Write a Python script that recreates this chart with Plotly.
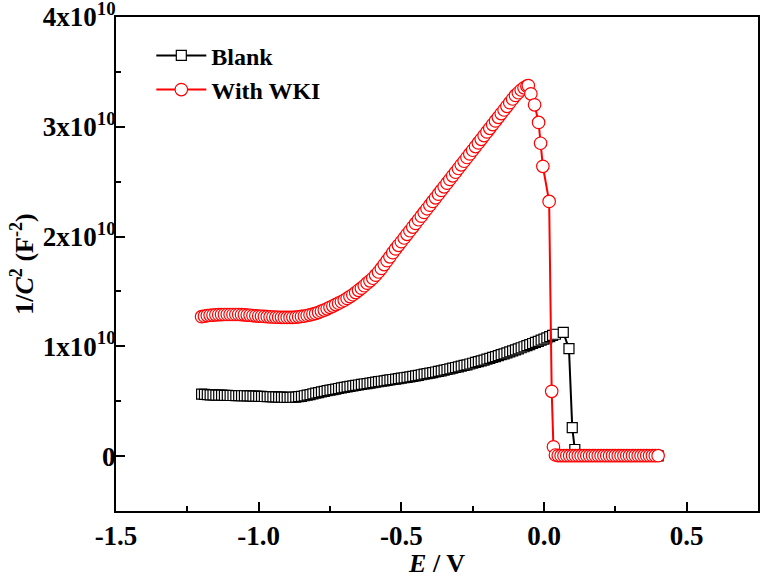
import plotly.graph_objects as go

# ---------------- data (potential E in V, 1/C^2 in units of 1e10 F^-2) ----------------
blank_E_scan = [
    -1.20, -1.19, -1.18, -1.17, -1.16, -1.15, -1.14, -1.13, -1.12, -1.11,
    -1.10, -1.09, -1.08, -1.07, -1.06, -1.05, -1.04, -1.03, -1.02, -1.01,
    -1.00, -0.99, -0.98, -0.97, -0.96, -0.95, -0.94, -0.93, -0.92, -0.91,
    -0.90, -0.89, -0.88, -0.87, -0.86, -0.85, -0.84, -0.83, -0.82, -0.81,
    -0.80, -0.79, -0.78, -0.77, -0.76, -0.75, -0.74, -0.73, -0.72, -0.71,
    -0.70, -0.69, -0.68, -0.67, -0.66, -0.65, -0.64, -0.63, -0.62, -0.61,
    -0.60, -0.59, -0.58, -0.57, -0.56, -0.55, -0.54, -0.53, -0.52, -0.51,
    -0.50, -0.49, -0.48, -0.47, -0.46, -0.45, -0.44, -0.43, -0.42, -0.41,
    -0.40, -0.39, -0.38, -0.37, -0.36, -0.35, -0.34, -0.33, -0.32, -0.31,
    -0.30, -0.29, -0.28, -0.27, -0.26, -0.25, -0.24, -0.23, -0.22, -0.21,
    -0.20, -0.19, -0.18, -0.17, -0.16, -0.15, -0.14, -0.13, -0.12, -0.11,
    -0.10, -0.09, -0.08, -0.07, -0.06, -0.05, -0.04, -0.03, -0.02, -0.01,
    0.00, 0.01, 0.02, 0.03, 0.04,
]
blank_C2_scan = [
    0.565, 0.562, 0.560, 0.558, 0.557, 0.556, 0.555, 0.555, 0.554, 0.553,
    0.552, 0.552, 0.551, 0.551, 0.550, 0.550, 0.549, 0.548, 0.547, 0.546,
    0.545, 0.544, 0.543, 0.542, 0.541, 0.540, 0.539, 0.538, 0.537, 0.536,
    0.535, 0.535, 0.536, 0.538, 0.541, 0.545, 0.550, 0.555, 0.561, 0.567,
    0.573, 0.579, 0.585, 0.590, 0.596, 0.601, 0.606, 0.611, 0.616, 0.621,
    0.626, 0.630, 0.635, 0.639, 0.644, 0.648, 0.653, 0.657, 0.661, 0.665,
    0.670, 0.674, 0.678, 0.682, 0.686, 0.690, 0.694, 0.698, 0.702, 0.706,
    0.710, 0.714, 0.718, 0.722, 0.727, 0.731, 0.736, 0.741, 0.746, 0.751,
    0.756, 0.761, 0.766, 0.772, 0.777, 0.783, 0.789, 0.795, 0.801, 0.807,
    0.813, 0.819, 0.826, 0.832, 0.839, 0.846, 0.853, 0.860, 0.868, 0.875,
    0.883, 0.891, 0.899, 0.907, 0.915, 0.924, 0.932, 0.941, 0.950, 0.959,
    0.968, 0.977, 0.987, 0.996, 1.006, 1.016, 1.026, 1.036, 1.046, 1.056,
    1.066, 1.077, 1.088, 1.099, 1.110,
]
blank_E_drop = [0.0675, 0.0875, 0.099, 0.108]
blank_C2_drop = [1.127, 0.979, 0.260, 0.060]
blank_E_flat = [
    0.12, 0.13, 0.14, 0.15, 0.16, 0.17, 0.18, 0.19, 0.20, 0.21,
    0.22, 0.23, 0.24, 0.25, 0.26, 0.27, 0.28, 0.29, 0.30, 0.31,
    0.32, 0.33, 0.34, 0.35, 0.36, 0.37, 0.38, 0.39, 0.40,
]
blank_C2_flat = [
    0.004, 0.004, 0.003, 0.003, 0.003, 0.003, 0.003, 0.003, 0.003, 0.003,
    0.003, 0.003, 0.003, 0.003, 0.003, 0.003, 0.003, 0.003, 0.003, 0.003,
    0.003, 0.003, 0.003, 0.003, 0.003, 0.003, 0.003, 0.003, 0.003,
]

wki_E_scan = [
    -1.20, -1.19, -1.18, -1.17, -1.16, -1.15, -1.14, -1.13, -1.12, -1.11,
    -1.10, -1.09, -1.08, -1.07, -1.06, -1.05, -1.04, -1.03, -1.02, -1.01,
    -1.00, -0.99, -0.98, -0.97, -0.96, -0.95, -0.94, -0.93, -0.92, -0.91,
    -0.90, -0.89, -0.88, -0.87, -0.86, -0.85, -0.84, -0.83, -0.82, -0.81,
    -0.80, -0.79, -0.78, -0.77, -0.76, -0.75, -0.74, -0.73, -0.72, -0.71,
    -0.70, -0.69, -0.68, -0.67, -0.66, -0.65, -0.64, -0.63, -0.62, -0.61,
    -0.60, -0.59, -0.58, -0.57, -0.56, -0.55, -0.54, -0.53, -0.52, -0.51,
    -0.50, -0.49, -0.48, -0.47, -0.46, -0.45, -0.44, -0.43, -0.42, -0.41,
    -0.40, -0.39, -0.38, -0.37, -0.36, -0.35, -0.34, -0.33, -0.32, -0.31,
    -0.30, -0.29, -0.28, -0.27, -0.26, -0.25, -0.24, -0.23, -0.22, -0.21,
    -0.20, -0.19, -0.18, -0.17, -0.16, -0.15, -0.14, -0.13, -0.12, -0.11,
    -0.10, -0.09, -0.08, -0.07, -0.06,
]
wki_C2_scan = [
    1.270, 1.275, 1.280, 1.283, 1.285, 1.287, 1.288, 1.289, 1.290, 1.290,
    1.290, 1.290, 1.290, 1.290, 1.288, 1.287, 1.285, 1.283, 1.280, 1.278,
    1.276, 1.274, 1.272, 1.270, 1.268, 1.267, 1.266, 1.265, 1.264, 1.263,
    1.263, 1.263, 1.264, 1.266, 1.269, 1.272, 1.276, 1.281, 1.287, 1.294,
    1.300, 1.310, 1.320, 1.330, 1.342, 1.355, 1.367, 1.380, 1.393, 1.406,
    1.420, 1.436, 1.453, 1.470, 1.490, 1.510, 1.530, 1.552, 1.575, 1.597,
    1.620, 1.648, 1.677, 1.710, 1.745, 1.780, 1.815, 1.853, 1.887, 1.920,
    1.953, 1.987, 2.020, 2.053, 2.086, 2.120, 2.153, 2.186, 2.220, 2.253,
    2.286, 2.320, 2.353, 2.386, 2.420, 2.453, 2.486, 2.520, 2.553, 2.586,
    2.620, 2.653, 2.686, 2.720, 2.753, 2.786, 2.820, 2.853, 2.886, 2.920,
    2.953, 2.986, 3.020, 3.053, 3.086, 3.120, 3.153, 3.186, 3.220, 3.253,
    3.286, 3.310, 3.335, 3.355, 3.370,
]
wki_E_drop = [-0.055, -0.046, -0.033, -0.019, -0.012, -0.004, 0.018, 0.027, 0.033, 0.040]
wki_C2_drop = [3.375, 3.300, 3.200, 3.040, 2.850, 2.640, 2.320, 0.590, 0.085, 0.010]
wki_E_flat = [
    0.05, 0.06, 0.07, 0.08, 0.09, 0.10, 0.11, 0.12, 0.13, 0.14,
    0.15, 0.16, 0.17, 0.18, 0.19, 0.20, 0.21, 0.22, 0.23, 0.24,
    0.25, 0.26, 0.27, 0.28, 0.29, 0.30, 0.31, 0.32, 0.33, 0.34,
    0.35, 0.36, 0.37, 0.38, 0.39, 0.40,
]
wki_C2_flat = [
    0.005, 0.004, 0.004, 0.004, 0.004, 0.004, 0.004, 0.004, 0.004, 0.004,
    0.004, 0.004, 0.004, 0.004, 0.004, 0.004, 0.004, 0.004, 0.004, 0.004,
    0.004, 0.004, 0.004, 0.004, 0.004, 0.004, 0.004, 0.004, 0.004, 0.004,
    0.004, 0.004, 0.004, 0.004, 0.004, 0.004,
]

x_tick_vals = [-1.5, -1.0, -0.5, 0.0, 0.5]
x_tick_text = ["-1.5", "-1.0", "-0.5", "0.0", "0.5"]
y_tick_vals = [0, 1e10, 2e10, 3e10, 4e10]
y_tick_text = ["0", "1x10<sup>10</sup>", "2x10<sup>10</sup>", "3x10<sup>10</sup>", "4x10<sup>10</sup>"]

SCALE = 1e10
blank_E = blank_E_scan + blank_E_drop + blank_E_flat
blank_C2 = [v * SCALE for v in blank_C2_scan + blank_C2_drop + blank_C2_flat]
wki_E = wki_E_scan + wki_E_drop + wki_E_flat
wki_C2 = [v * SCALE for v in wki_C2_scan + wki_C2_drop + wki_C2_flat]

FONT = "Liberation Serif"

fig = go.Figure()
fig.add_trace(go.Scatter(
    x=blank_E, y=blank_C2, mode="lines+markers", name="Blank",
    line=dict(color="black", width=2),
    marker=dict(symbol="square", size=10, color="white",
                line=dict(color="black", width=1.2)),
))
fig.add_trace(go.Scatter(
    x=wki_E, y=wki_C2, mode="lines+markers", name="With WKI",
    line=dict(color="red", width=2),
    marker=dict(symbol="circle", size=12.5, color="white",
                line=dict(color="red", width=1.2)),
))

axis_common = dict(
    showline=True, linecolor="black", linewidth=2, mirror=True,
    ticks="inside", ticklen=9, tickwidth=2, tickcolor="black",
    showgrid=False, zeroline=False, automargin=False,
    ticklabeloverflow="allow",
    tickfont=dict(family=FONT, size=27, color="black", weight="bold"),
)

fig.update_xaxes(
    **axis_common,
    range=[-1.5, 0.75],
    tickvals=x_tick_vals, ticktext=x_tick_text,
    minor=dict(dtick=0.25, ticks="inside", ticklen=5, tickwidth=2, tickcolor="black"),
    ticklabelstandoff=0,
    title=dict(text="<i>E</i> / V", font=dict(family=FONT, size=26, color="black", weight="bold"),
               standoff=0),
)
fig.update_yaxes(
    **axis_common,
    range=[-0.5e10, 4e10],
    tickvals=y_tick_vals, ticktext=y_tick_text,
    minor=dict(dtick=0.5e10, ticks="inside", ticklen=5, tickwidth=2, tickcolor="black"),
    ticklabelstandoff=-7,
    title=dict(text="1/<i>C</i><sup>2</sup> (F<sup>-2</sup>)",
               font=dict(family=FONT, size=26, color="black", weight="bold"), standoff=2),
)

fig.update_layout(
    width=761, height=578,
    margin=dict(l=116, r=3, t=17, b=67),
    paper_bgcolor="white", plot_bgcolor="white",
    font=dict(family=FONT, color="black"),
    legend=dict(x=0.055, y=0.967, xanchor="left", yanchor="top",
                bgcolor="rgba(0,0,0,0)", borderwidth=0,
                font=dict(family=FONT, size=24, color="black", weight="bold"),
                itemwidth=50, tracegroupgap=0),
    showlegend=True,
)

fig.write_html("out.html", config={"displayModeBar": False},
               post_script="document.body.style.margin='0px';")
